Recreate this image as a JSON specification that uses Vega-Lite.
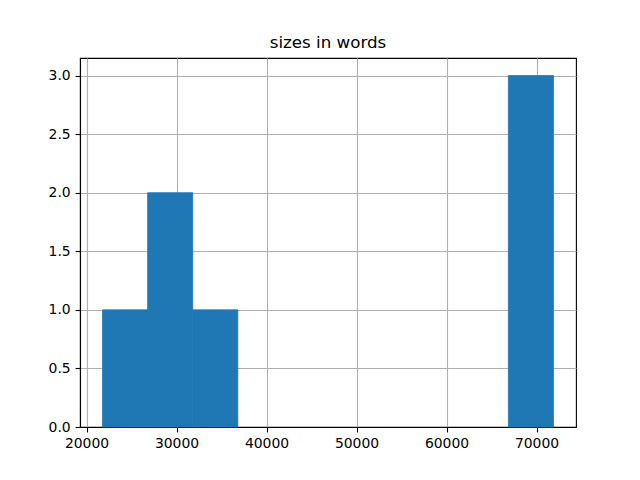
{
  "$schema": "https://vega.github.io/schema/vega-lite/v6.json",
  "autosize": {"type": "none"},
  "padding": {"left": 80, "top": 58, "right": 64, "bottom": 53},
  "width": 496,
  "height": 369,
  "background": "white",
  "title": {
    "text": "sizes in words",
    "font": "DejaVu Sans",
    "fontSize": 16.7,
    "fontWeight": "normal",
    "color": "black",
    "anchor": "middle",
    "baseline": "alphabetic",
    "offset": -7
  },
  "config": {
    "view": {"stroke": "black", "strokeWidth": 1.1},
    "axis": {
      "labelFont": "DejaVu Sans",
      "labelFontSize": 13.9,
      "labelColor": "black",
      "tickColor": "black",
      "tickSize": 4.9,
      "tickWidth": 1.1,
      "domainColor": "black",
      "domainWidth": 1.1,
      "gridColor": "#b0b0b0",
      "gridWidth": 1.1,
      "gridOpacity": 1,
      "labelPadding": 4.9,
      "title": null,
      "zindex": 1
    }
  },
  "data": {
    "values": [
      {"start": 21780, "end": 26790, "count": 1},
      {"start": 26790, "end": 31800, "count": 2},
      {"start": 31800, "end": 36810, "count": 1},
      {"start": 36810, "end": 41820, "count": 0},
      {"start": 41820, "end": 46830, "count": 0},
      {"start": 46830, "end": 51840, "count": 0},
      {"start": 51840, "end": 56850, "count": 0},
      {"start": 56850, "end": 61860, "count": 0},
      {"start": 61860, "end": 66870, "count": 0},
      {"start": 66870, "end": 71880, "count": 3}
    ]
  },
  "transform": [{"filter": "datum.count > 0"}],
  "mark": {"type": "rect", "color": "#1f77b4", "stroke": "#1f77b4", "strokeWidth": 0.8},
  "encoding": {
    "x": {
      "field": "start",
      "type": "quantitative",
      "scale": {"domain": [19275, 74385], "nice": false, "zero": false},
      "axis": {"values": [20000, 30000, 40000, 50000, 60000, 70000], "format": "d", "labelFlush": false}
    },
    "x2": {"field": "end"},
    "y": {
      "field": "count",
      "type": "quantitative",
      "scale": {"domain": [0, 3.15], "nice": false},
      "axis": {"values": [0, 0.5, 1, 1.5, 2, 2.5, 3], "format": ".1f"}
    },
    "y2": {"datum": 0}
  }
}
